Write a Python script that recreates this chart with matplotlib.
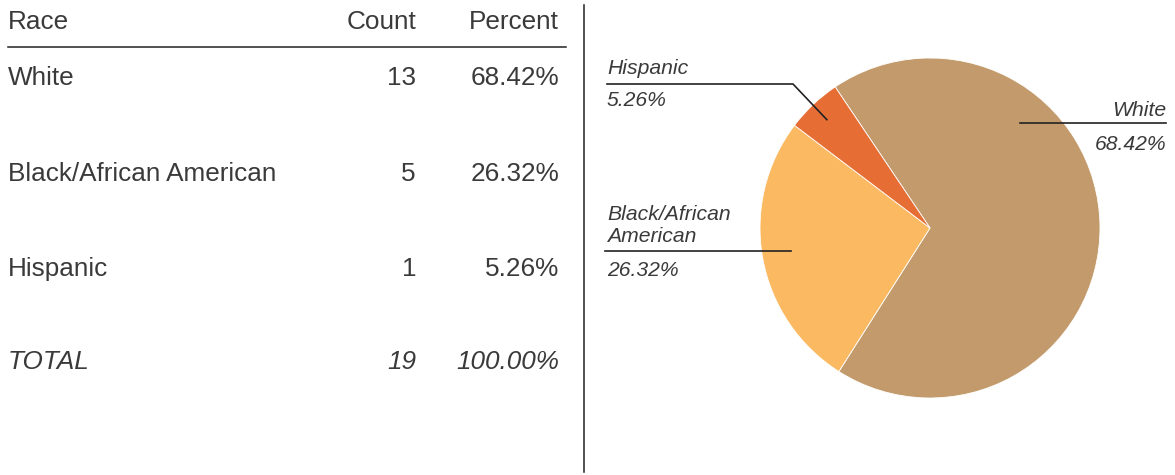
import numpy as np
import matplotlib.pyplot as plt

# data
races = ['White', 'Black/African American', 'Hispanic']
counts = [13, 5, 1]
pie_labels = ['White', 'Black/African\nAmerican', 'Hispanic']
colors = ['#C39A6B', '#FBB962', '#E66E35']

total = sum(counts)
percents = [c / total * 100 for c in counts]

plt.rcParams['font.family'] = ['Liberation Sans', 'DejaVu Sans']
txt_color = '#3a3a3a'

W, H = 1175, 475
fig = plt.figure(figsize=(W / 100, H / 100), dpi=100)

# pie, centre (930, 228) px, radius 170 px
cx, cy, R = 930, 228, 170
pax = fig.add_axes([(cx - R) / W, (H - cy - R) / H, 2 * R / W, 2 * R / H])
wedges, _ = pax.pie(counts, colors=colors, startangle=123.9, counterclock=False,
                    radius=1, wedgeprops=dict(linewidth=0.6, edgecolor='white'))
pax.set_xlim(-1, 1)
pax.set_ylim(-1, 1)
pax.axis('off')

# overlay in pixel coordinates
ax = fig.add_axes([0, 0, 1, 1])
ax.set_xlim(0, W)
ax.set_ylim(H, 0)
ax.axis('off')

# ---- table ----
fs = 18.8
col_x = [8, 416, 559]
ax.text(col_x[0], 22, 'Race', fontsize=fs, color=txt_color, va='center')
ax.text(col_x[1], 22, 'Count', fontsize=fs, color=txt_color, va='center', ha='right')
ax.text(col_x[2], 22, 'Percent', fontsize=fs, color=txt_color, va='center', ha='right')
ax.plot([8, 566], [47, 47], color='#222222', lw=1.1)

row_y = [78, 174, 269]
for name, c, p, y in zip(races, counts, percents, row_y):
    ax.text(col_x[0], y, name, fontsize=fs, color=txt_color, va='center')
    ax.text(col_x[1], y, str(c), fontsize=fs, color=txt_color, va='center', ha='right')
    ax.text(col_x[2], y, f'{p:.2f}%', fontsize=fs, color=txt_color, va='center', ha='right')

ax.text(col_x[0], 362, 'TOTAL', fontsize=fs, color=txt_color, va='center', style='italic')
ax.text(col_x[1], 362, str(total), fontsize=fs, color=txt_color, va='center', ha='right', style='italic')
ax.text(col_x[2], 362, f'{sum(percents):.2f}%', fontsize=fs, color=txt_color, va='center',
        ha='right', style='italic')

# divider
ax.plot([584, 584], [5, 472], color='#222222', lw=1.1)

# ---- pie labels ----
lfs = 15.2


def anchor(ang, r):
    a = np.deg2rad(ang)
    return cx + R * r * np.cos(a), cy - R * r * np.sin(a)


# White
ax0, ay0 = anchor(49.4, 0.81)
ax.plot([ax0, 1166], [123, 123], color='#222222', lw=1.2)
ax.text(1166, 110, pie_labels[0], fontsize=lfs, color=txt_color, style='italic', ha='right', va='center')
ax.text(1166, 145, f'{percents[0]:.2f}%', fontsize=lfs, color=txt_color, style='italic', ha='right', va='center')

# Black/African American
bx, by = anchor(189.3, 0.83)
ax.plot([605, bx], [251, 251], color='#222222', lw=1.2)
ax.text(607, 225, pie_labels[1], fontsize=lfs, color=txt_color, style='italic', ha='left', va='center',
        linespacing=1.2)
ax.text(607, 270, f'{percents[1]:.2f}%', fontsize=lfs, color=txt_color, style='italic', ha='left', va='center')

# Hispanic
hx, hy = anchor(133.6, 0.88)
ax.plot([607, 793, hx], [84, 84, hy], color='#222222', lw=1.2)
ax.text(607, 69, pie_labels[2], fontsize=lfs, color=txt_color, style='italic', ha='left', va='center')
ax.text(607, 101, f'{percents[2]:.2f}%', fontsize=lfs, color=txt_color, style='italic', ha='left', va='center')

fig.savefig('out.png', dpi=100)
